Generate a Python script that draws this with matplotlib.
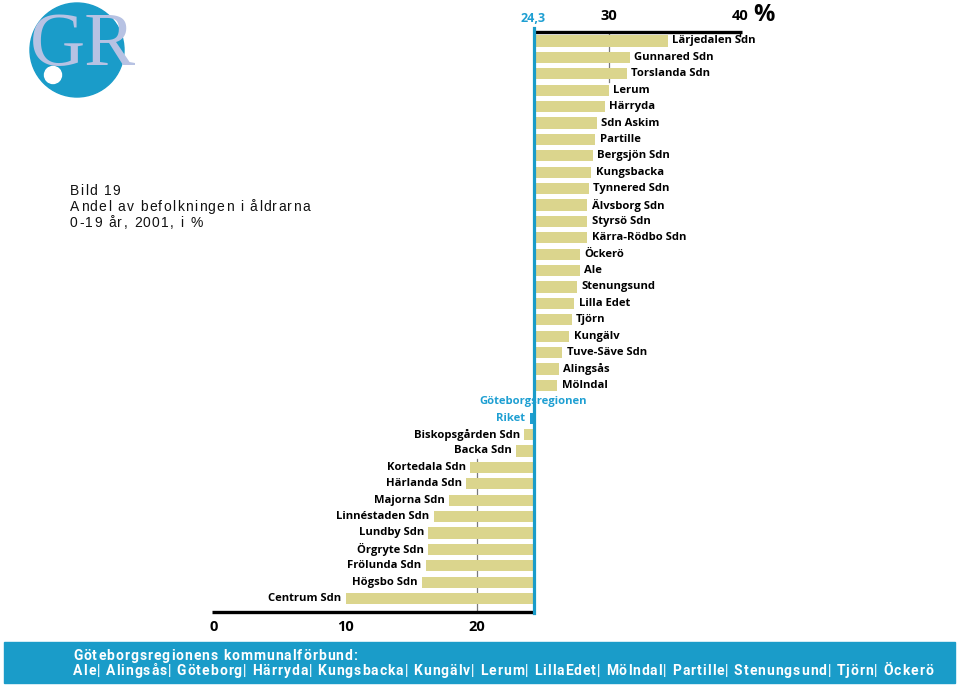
import matplotlib
matplotlib.use("Agg")
import matplotlib.pyplot as plt
from matplotlib.patches import Circle, Rectangle
from matplotlib import font_manager
from matplotlib.ft2font import FT2Font

# ---------------- data ----------------
upper_names = ["Lärjedalen Sdn", "Gunnared Sdn", "Torslanda Sdn", "Lerum", "Härryda",
               "Sdn Askim", "Partille", "Bergsjön Sdn", "Kungsbacka", "Tynnered Sdn",
               "Älvsborg Sdn", "Styrsö Sdn", "Kärra-Rödbo Sdn", "Öckerö", "Ale",
               "Stenungsund", "Lilla Edet", "Tjörn", "Kungälv", "Tuve-Säve Sdn",
               "Alingsås", "Mölndal"]
upper_vals = [34.5, 31.6, 31.4, 30.0, 29.7, 29.1, 29.0, 28.8, 28.7, 28.5,
              28.4, 28.4, 28.4, 27.8, 27.8, 27.6, 27.4, 27.2, 27.0, 26.5,
              26.2, 26.1]
region_name = "Göteborgsregionen"
region_val = 24.3
riket_name = "Riket"
riket_val = 24.0
lower_names = ["Biskopsgården Sdn", "Backa Sdn", "Kortedala Sdn", "Härlanda Sdn",
               "Majorna Sdn", "Linnéstaden Sdn", "Lundby Sdn", "Örgryte Sdn",
               "Frölunda Sdn", "Högsbo Sdn", "Centrum Sdn"]
lower_vals = [23.6, 23.0, 19.5, 19.2, 17.9, 16.7, 16.3, 16.3, 16.1, 15.8, 10.0]
top_ticks = [30, 40]
bottom_ticks = [0, 10, 20]
baseline_label = "24,3"

title_lines = ["Bild 19", "Andel av befolkningen i åldrarna", "0-19 år, 2001, i %"]
banner_lines = ["Göteborgsregionens kommunalförbund:",
                "Ale| Alingsås| Göteborg| Härryda| Kungsbacka| Kungälv| Lerum| LillaEdet| "
                "Mölndal| Partille| Stenungsund| Tjörn| Öckerö"]

# ---------------- style ----------------
W, H, DPI = 960, 686, 100
BAR = "#dbd58d"
BLUE = "#1a9cc9"
LBLUE = "#1e9fd2"
LABEL_FONT = "Open Sans"
LFS = 8.1

fig = plt.figure(figsize=(W / DPI, H / DPI), dpi=DPI)

# overlay axes in pixel coordinates (for logo/banner)
pax = fig.add_axes([0, 0, 1, 1], zorder=0)
pax.set_xlim(0, W)
pax.set_ylim(H, 0)
pax.axis("off")

# main data axes
ax = fig.add_axes([0, 0, 1, 1], zorder=1)
ax.patch.set_alpha(0)
X0, PXU = 214.0, 13.15       # pixel of value 0, pixels per unit
Y0, PXR = 41.0, 16.4         # pixel of row 0, pixels per row
ax.set_xlim(-X0 / PXU, (W - X0) / PXU)
ax.set_ylim((H - Y0) / PXR, -Y0 / PXR)
ax.axis("off")

def prow(py):
    return (py - Y0) / PXR

names = upper_names + [region_name, riket_name] + lower_names
vals = upper_vals + [region_val, riket_val] + lower_vals
base = region_val
n_up = len(upper_names)

off = 4.5 / PXU
for i, (nm, v) in enumerate(zip(names, vals)):
    if nm == region_name:
        ax.text(base, i, nm, ha="center", va="center", fontsize=LFS,
                fontweight="bold", family=LABEL_FONT, color=LBLUE, zorder=5)
        continue
    col = LBLUE if nm == riket_name else BAR
    ax.barh(i, v - base, left=base, height=0.68, color=col, zorder=2)
    if v > base:
        ax.text(v + off, i, nm, ha="left", va="center", fontsize=LFS,
                fontweight="bold", family=LABEL_FONT, color="black", zorder=5)
    else:
        ax.text(v - off, i, nm, ha="right", va="center", fontsize=LFS,
                fontweight="bold", family=LABEL_FONT,
                color=LBLUE if nm == riket_name else "black", zorder=5)

top_row = prow(32)
bot_row = prow(612)

# grid segments
for t in top_ticks:
    rows = [i for i, v in enumerate(upper_vals) if v > t]
    if rows:
        ax.plot([t, t], [top_row, max(rows) + 0.5], color="#7a7a7a", lw=0.9, zorder=1)
lower_start = n_up + 2
for t in bottom_ticks:
    rows = [lower_start + j for j, v in enumerate(lower_vals) if v < t]
    if rows:
        ax.plot([t, t], [min(rows) - 0.5, bot_row], color="#7a7a7a", lw=0.9, zorder=1)

# axes lines
ax.plot([base, top_ticks[-1] + 0.15], [top_row, top_row], color="black", lw=2.4,
        solid_capstyle="butt", zorder=3)
ax.plot([bottom_ticks[0] - 0.15, base], [bot_row, bot_row], color="black", lw=2.4,
        solid_capstyle="butt", zorder=3)
ax.plot([top_ticks[-1], top_ticks[-1]], [top_row, top_row + 0.25], color="black", lw=1, zorder=3)
ax.plot([base, base], [prow(28), prow(613)], color=BLUE, lw=2.3, zorder=4)

for t in top_ticks:
    ax.text(t, prow(16), str(t), ha="center", va="center", fontsize=10.5,
            fontweight="bold", family=LABEL_FONT)
for t in bottom_ticks:
    ax.text(t, prow(627), str(t), ha="center", va="center", fontsize=10.5,
            fontweight="bold", family=LABEL_FONT)
ax.text(top_ticks[-1] + 1.0, prow(15), "%", ha="left", va="center", fontsize=17,
        fontweight="bold", family=LABEL_FONT)
ax.text(base, prow(18), baseline_label, ha="center", va="center", fontsize=9,
        fontweight="bold", family=LABEL_FONT, color=LBLUE)

# ---------------- letter-spaced text helper ----------------
def advances(s, family, size, weight):
    fp = font_manager.FontProperties(family=family, weight=weight)
    ft = FT2Font(font_manager.findfont(fp))
    ft.set_size(size, DPI)
    return [ft.load_char(ord(c)).linearHoriAdvance / 65536 for c in s]

def track_for(s, family, size, weight, target):
    a = advances(s, family, size, weight)
    return (target - sum(a)) / (len(s) - 1)

def spaced(x, ybase, s, family, size, weight, track, color):
    a = advances(s, family, size, weight)
    for c, w in zip(s, a):
        if c != " ":
            pax.text(x, ybase, c, ha="left", va="baseline", family=family,
                     fontsize=size, fontweight=weight, color=color, zorder=5)
        x += w + track

TF = "Liberation Sans"
tr = track_for(title_lines[1], TF, 10, "normal", 240)
for k, line in enumerate(title_lines):
    spaced(70, 195 + 16 * k, line, TF, 10, "normal", tr, "#111111")

# banner
BF = "Roboto"
pax.add_patch(Rectangle((4, 642), 951, 41, color=BLUE, zorder=1))
trb = track_for(banner_lines[1], BF, 10, "bold", 860)
spaced(73, 660, banner_lines[0], BF, 10, "bold", trb, "white")
spaced(73, 675, banner_lines[1], BF, 10, "bold", trb, "white")

# logo
pax.add_patch(Circle((77, 50), 47, color=BLUE, zorder=1))
pax.add_patch(Circle((53, 75), 8.5, color="white", zorder=3))
pax.text(83, 46, "GR", ha="center", va="center", family="Liberation Serif",
         fontsize=55, color="#b7c2e3", zorder=2)

fig.savefig("out.png", dpi=DPI)
